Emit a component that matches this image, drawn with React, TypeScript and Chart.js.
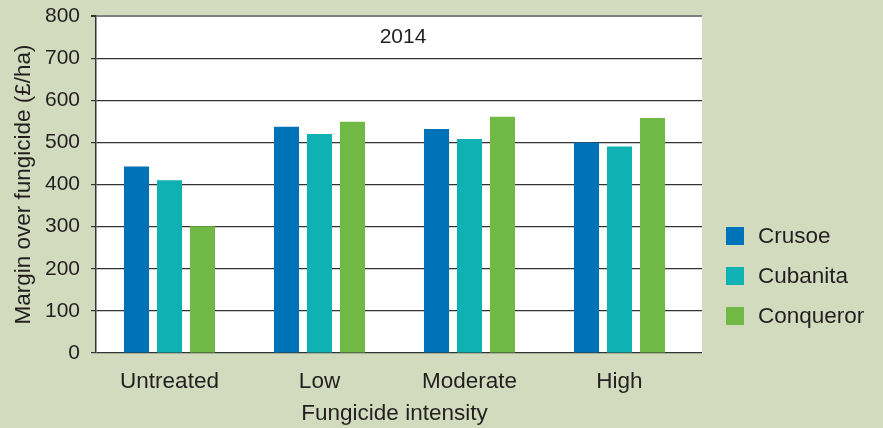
import React, { useEffect, useRef } from 'react';
import { Chart, registerables } from 'chart.js';

Chart.register(...registerables);

const CATEGORIES = ['Untreated', 'Low', 'Moderate', 'High'];
const SERIES_NAMES = ['Crusoe', 'Cubanita', 'Conqueror'];
const CRUSOE = [443, 537, 532, 500];
const CUBANITA = [410, 520, 508, 490];
const CONQUEROR = [301, 549, 561, 558];
const SERIES_COLORS = ['#0072b8', '#10b1b3', '#6fb944'];
const Y_MIN = 0;
const Y_MAX = 800;
const Y_STEP = 100;
const TITLE = '2014';
const Y_TITLE = 'Margin over fungicide (£/ha)';
const X_TITLE = 'Fungicide intensity';

const BG = '#d2dbbe';
const TEXT = '#231f20';
const FONT = '"Liberation Sans", Arial, sans-serif';
const PLOT_TOP = 16;

const overlayPlugin = {
  id: 'overlay',
  afterLayout(chart: any) {
    const ca = chart.chartArea;
    ca.top = PLOT_TOP;
    ca.height = ca.bottom - ca.top;
    const y = chart.scales.y;
    y.top = PLOT_TOP;
    y.height = y.bottom - y.top;
    y.configure();
    const x = chart.scales.x;
    x.left = ca.left - 1.5;
    x.right = x.left + 600;
    x.width = 600;
    x.configure();
  },
  beforeDraw(chart: any) {
    const { ctx, chartArea } = chart;
    ctx.save();
    ctx.fillStyle = '#ffffff';
    ctx.fillRect(chartArea.left, chartArea.top, chartArea.right - chartArea.left, chartArea.bottom - chartArea.top);
    ctx.restore();
  },
  afterDraw(chart: any) {
    const { ctx, chartArea } = chart;
    ctx.save();
    ctx.fillStyle = TEXT;
    ctx.font = `21px ${FONT}`;
    ctx.textAlign = 'center';
    ctx.textBaseline = 'middle';
    ctx.fillText(TITLE, (chartArea.left + chartArea.right) / 2 + 4, chartArea.top + 21);
    chart.data.datasets.forEach((ds: any, i: number) => {
      const cy = chartArea.top + 220 + i * 40;
      ctx.fillStyle = ds.backgroundColor;
      ctx.fillRect(chartArea.right + 24, cy - 9, 18, 18);
      ctx.fillStyle = TEXT;
      ctx.textAlign = 'left';
      ctx.font = `22.5px ${FONT}`;
      ctx.fillText(ds.label, chartArea.right + 56, cy + 1);
    });
    ctx.restore();
  },
};

export default function App() {
  const ref = useRef<HTMLCanvasElement | null>(null);

  useEffect(() => {
    if (!ref.current) return;
    const values = [CRUSOE, CUBANITA, CONQUEROR];
    const chart = new Chart(ref.current, {
      type: 'bar',
      data: {
        labels: CATEGORIES,
        datasets: SERIES_NAMES.map((name, i) => ({
          label: name,
          data: values[i],
          backgroundColor: SERIES_COLORS[i],
          borderWidth: 0,
          categoryPercentage: 0.66,
          barPercentage: 0.76,
        })),
      },
      options: {
        responsive: false,
        animation: false,
        layout: { padding: { top: 12, right: 181, left: 0, bottom: 0 } },
        plugins: {
          legend: { display: false },
          title: { display: false },
          tooltip: { enabled: false },
        },
        scales: {
          x: {
            type: 'category',
            position: 'bottom',
            offset: true,
            grid: { display: false, drawTicks: false },
            border: { display: false },
            ticks: {
              autoSkip: false,
              maxRotation: 0,
              padding: 15,
              color: TEXT,
              font: { family: FONT, size: 22.5 },
            },
            title: {
              display: true,
              text: X_TITLE,
              color: TEXT,
              font: { family: FONT, size: 22.5 },
              padding: { top: 0, bottom: 1 },
            },
            afterFit: (s: any) => { s.height = 75; },
          },
          y: {
            min: Y_MIN,
            max: Y_MAX,
            ticks: {
              stepSize: Y_STEP,
              padding: 11,
              color: TEXT,
              font: { family: FONT, size: 21 },
            },
            grid: {
              color: (c: any) => (c.tick && c.tick.value === Y_MAX ? '#808080' : '#333333'),
              lineWidth: (c: any) => (c.tick && c.tick.value === Y_MAX ? 2 : 1.2),
              tickLength: 5,
              tickColor: '#333333',
            },
            border: { display: true, color: '#333333', width: 1.5 },
            title: {
              display: true,
              text: Y_TITLE,
              color: TEXT,
              font: { family: FONT, size: 22.5 },
              padding: { top: 10, bottom: 0 },
            },
            afterFit: (s: any) => { s.width = 96; },
          },
        },
      } as any,
      plugins: [overlayPlugin],
    });
    return () => chart.destroy();
  }, []);

  return (
    <div style={{ position: 'fixed', left: 0, top: 0, width: 883, height: 428, background: BG }}>
      <canvas ref={ref} width={883} height={428} style={{ display: 'block' }} />
    </div>
  );
}
